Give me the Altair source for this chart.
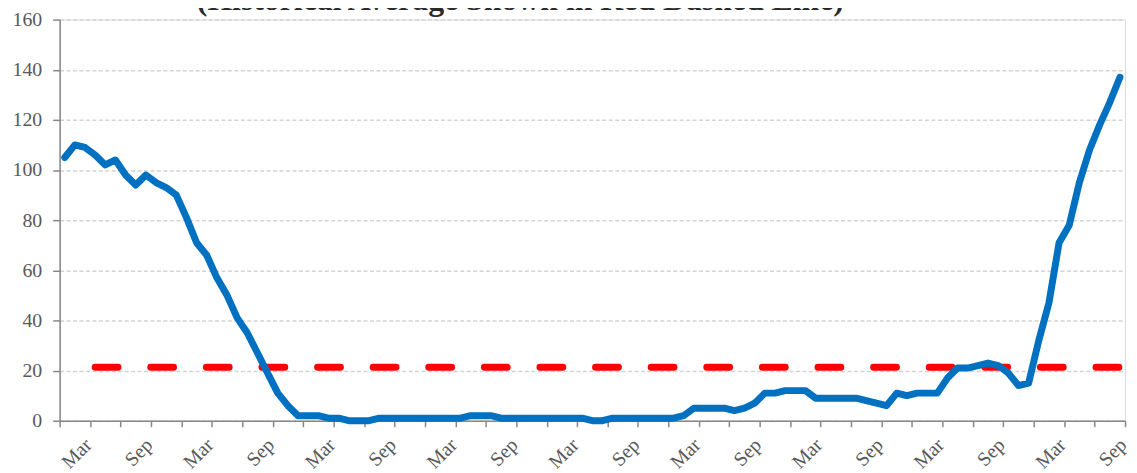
import altair as alt
import pandas as pd

# Monthly series (blue line), one value per month
values = [105, 110, 109, 106, 102, 104, 98, 94, 98, 95,
          93, 90, 81, 71, 66, 57, 50, 41, 35, 27,
          19, 11, 6, 2, 2, 2, 1, 1, 0, 0,
          0, 1, 1, 1, 1, 1, 1, 1, 1, 1,
          2, 2, 2, 1, 1, 1, 1, 1, 1, 1,
          1, 1, 0, 0, 1, 1, 1, 1, 1, 1,
          1, 2, 5, 5, 5, 5, 4, 5, 7, 11,
          11, 12, 12, 12, 9, 9, 9, 9, 9, 8,
          7, 6, 11, 10, 11, 11, 11, 17, 21, 21,
          22, 23, 22, 19, 14, 15, 32, 47, 71, 78,
          95, 108, 118, 127, 137]

# Historical average (red dashed line)
hist_avg = 21.3
hist_start_month = 3
hist_end_month = len(values) - 1

# Axis ticks (every 3 months) and labelled ticks
tick_values = list(range(0, len(values) + 1, 3))
label_positions = [3, 9, 15, 21, 27, 33, 39, 45, 51, 57, 63, 69, 75, 81, 87, 93, 99, 105]
tick_labels = ["Mar", "Sep", "Mar", "Sep", "Mar", "Sep", "Mar", "Sep", "Mar",
               "Sep", "Mar", "Sep", "Mar", "Sep", "Mar", "Sep", "Mar", "Sep"]
y_ticks = [0, 20, 40, 60, 80, 100, 120, 140, 160]

title_text = "(Historical Average Shown in Red Dashed Line)"

FONT = "Liberation Serif"
AXIS_GRAY = "#878787"
LABEL_GRAY = "#595959"
PLOT_W, PLOT_H = 1073, 404

df = pd.DataFrame({"m": [i + 0.5 for i in range(len(values))], "v": values})
df_avg = pd.DataFrame({"x1": [hist_start_month + 0.5], "x2": [hist_end_month + 0.5], "y": [hist_avg]})
df_title = pd.DataFrame({"t": [title_text]})

label_expr = "''"
for p, lab in zip(reversed(label_positions), reversed(tick_labels)):
    label_expr = f"datum.value == {p} ? '{lab}' : ({label_expr})"

x_scale = alt.Scale(domain=[0, len(values)], nice=False, zero=False)
y_scale = alt.Scale(domain=[0, 160], nice=False)

x_axis = alt.Axis(values=tick_values, tickCount=len(tick_values) + 10,
                  labelExpr=label_expr, labelAngle=315,
                  labelAlign="right", labelBaseline="top", labelOverlap=False,
                  labelFlush=False, labelBound=False, labelOffset=-9,
                  labelFont=FONT, labelFontSize=20, labelColor=LABEL_GRAY,
                  labelPadding=8, tickSize=6, tickColor=AXIS_GRAY, tickWidth=1.5,
                  domainColor=AXIS_GRAY, domainWidth=1.5, grid=False, title=None)
y_axis = alt.Axis(values=y_ticks, tickCount=20, labelFont=FONT, labelFontSize=20,
                  labelColor=LABEL_GRAY,
                  labelPadding=11, tickSize=7, tickColor=AXIS_GRAY, tickWidth=1.5,
                  domainColor=AXIS_GRAY, domainWidth=1.5, grid=True,
                  gridColor="#d4d4d4", gridDash=[4, 2.5], gridWidth=1.5, title=None)

line = alt.Chart(df).mark_line(color="#0070C0", strokeWidth=7, strokeJoin="round",
                               strokeCap="round").encode(
    x=alt.X("m:Q", scale=x_scale, axis=x_axis),
    y=alt.Y("v:Q", scale=y_scale, axis=y_axis),
)

avg = alt.Chart(df_avg).mark_rule(color="#FF0000", strokeWidth=7, strokeCap="round",
                                  strokeDash=[23, 33]).encode(
    x=alt.X("x1:Q", scale=x_scale, axis=x_axis),
    x2="x2:Q",
    y=alt.Y("y:Q", scale=y_scale, axis=y_axis),
)

title = alt.Chart(df_title).mark_text(font=FONT, fontSize=32, fontWeight="bold",
                                      color="#2b2b2b", align="center",
                                      baseline="alphabetic").encode(
    text="t:N", x=alt.value(464), y=alt.value(-9.5))

chart = alt.layer(avg, line, title).properties(
    width=PLOT_W, height=PLOT_H,
    autosize=alt.AutoSizeParams(type="none"),
    padding={"left": 52, "top": 10, "right": 4, "bottom": 51},
).configure_view(strokeOpacity=0).configure(background="white")

chart.save("out.html", embed_options={"renderer": "svg", "actions": False})
